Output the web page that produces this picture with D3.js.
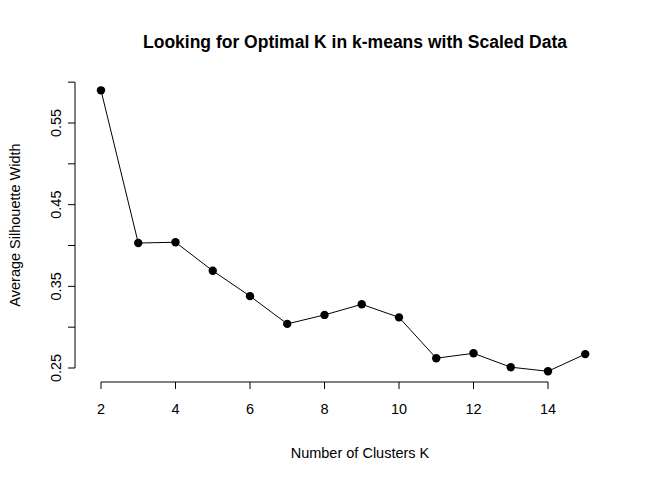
<!DOCTYPE html>
<meta charset="utf-8">
<script src="https://d3js.org/d3.v7.min.js"></script>
<style>body{margin:0;background:#fff}</style>
<div id="chart"></div>
<script>
// number of clusters and the silhouette width
var kValues = [2,3,4,5,6,7,8,9,10,11,12,13,14,15];
var silWidth = [0.590,0.403,0.404,0.369,0.338,0.304,0.315,0.328,0.312,0.262,0.268,0.251,0.246,0.267];
var xTicks = [2,4,6,8,10,12,14];
var yTicks = [0.25,0.30,0.35,0.40,0.45,0.50,0.55,0.60];
var yLabels = [0.25,0.35,0.45,0.55];

var W = 672, H = 480;
var svg = d3.select("#chart").append("svg").attr("width", W).attr("height", H)
  .style("font-family", "Liberation Sans, Arial, sans-serif");

var x = d3.scaleLinear().domain([2,14]).range([101,548]);
var y = d3.scaleLinear().domain([0.25,0.55]).range([368,123]);

// line + points
svg.append("path")
  .datum(kValues.map(function(k,i){ return [k, silWidth[i]]; }))
  .attr("d", d3.line().x(function(d){return x(d[0]);}).y(function(d){return y(d[1]);}))
  .attr("fill","none").attr("stroke","black").attr("stroke-width",1);
svg.selectAll("circle").data(kValues).enter().append("circle")
  .attr("cx", function(d){return x(d);})
  .attr("cy", function(d,i){return y(silWidth[i]);})
  .attr("r", 4.2).attr("fill","black");

// x axis
var xg = svg.append("g").attr("transform","translate(0,382)");
xg.append("line").attr("x1",x(2)).attr("x2",x(14)).attr("stroke","black");
xTicks.forEach(function(t){
  xg.append("line").attr("x1",x(t)).attr("x2",x(t)).attr("y2",7).attr("stroke","black");
  xg.append("text").attr("x",x(t)).attr("y",32).attr("text-anchor","middle")
    .style("font-size","14.5px").text(t);
});

// y axis
var yg = svg.append("g").attr("transform","translate(75,0)");
yg.append("line").attr("y1",y(0.25)).attr("y2",y(0.60)).attr("stroke","black");
yTicks.forEach(function(t){
  yg.append("line").attr("y1",y(t)).attr("y2",y(t)).attr("x2",-7).attr("stroke","black");
});
yLabels.forEach(function(t){
  yg.append("text").attr("transform","translate(-14,"+y(t)+") rotate(-90)")
    .attr("text-anchor","middle").style("font-size","14.5px").text(t.toFixed(2));
});

// titles
svg.append("text").attr("x",355).attr("y",48).attr("text-anchor","middle")
  .style("font-size","17.5px").style("font-weight","bold")
  .text("Looking for Optimal K in k-means with Scaled Data");
svg.append("text").attr("x",360).attr("y",458).attr("text-anchor","middle")
  .style("font-size","14.5px").text("Number of Clusters K");
svg.append("text").attr("transform","translate(20,225) rotate(-90)")
  .attr("text-anchor","middle").style("font-size","14.5px").text("Average Silhouette Width");
</script>
